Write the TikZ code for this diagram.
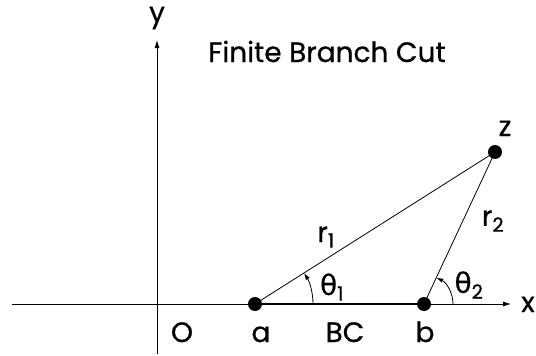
\documentclass[tikz,border=0pt]{standalone}
\usepackage{fontspec}
\setmainfont{Poppins}[FakeBold=0.6]
\newfontfamily\greekfont{DejaVu Sans}[FakeBold=0.4]
\usetikzlibrary{arrows.meta}

\begin{document}
\begin{tikzpicture}[
  x=1pt, y=-1pt,
  lbl/.style={font=\fontsize{28}{30}\selectfont, inner sep=0pt},
  axis/.style={line width=0.8pt, -{Latex[length=8pt,width=5pt]}},
  pt/.style={circle, fill=black, inner sep=0pt, minimum size=14pt},
  ang/.style={line width=0.8pt, -{Latex[length=7pt,width=4.5pt]}}
]
\useasboundingbox (0,0) rectangle (536,356);
% axes
\coordinate (xl) at (12,304);
\coordinate (xr) at (511,304);
\coordinate (yb) at (157,354);
\coordinate (yt) at (157,40);
\draw[axis] (xl) -- (xr);
\draw[axis] (yb) -- (yt);
% points
\node[pt] (a) at (255,304) {};
\node[pt] (b) at (424,304) {};
\node[pt] (z) at (495,152) {};
\draw[line width=2.6pt] (a.center) -- (b.center);
\draw[line width=0.8pt] (a.center) -- (z.center);
\draw[line width=0.8pt] (b.center) -- (z.center);
% angles
\draw[ang] (a.center) ++(58,0) arc[start angle=0, end angle=-32.3, radius=58];
\draw[ang] (b.center) ++(29,0) arc[start angle=0, end angle=-65, radius=29];
% labels
\node[lbl, anchor=base] (title) at (327,62) {Finite Branch Cut};
\node[lbl, anchor=base] (ylbl) at (157,22) {y};
\node[lbl, anchor=base] (xlbl) at (528,312) {x};
\node[lbl, anchor=base] (zlbl) at (505,136) {z};
\node[lbl, anchor=base] (olbl) at (182,342) {O};
\node[lbl, anchor=base] (albl) at (261,342) {a};
\node[lbl, anchor=base] (bclbl) at (345,342) {BC};
\node[lbl, anchor=base] (blbl) at (425,342) {b};
\node[lbl] (r1) at (326,237) {r\textsubscript{1}};
\node[lbl] (r2) at (493,221) {r\textsubscript{2}};
\node[lbl] (t1) at (332,287) {{\greekfont θ}\textsubscript{1}};
\node[lbl] (t2) at (469,285) {{\greekfont θ}\textsubscript{2}};
\end{tikzpicture}
\end{document}
